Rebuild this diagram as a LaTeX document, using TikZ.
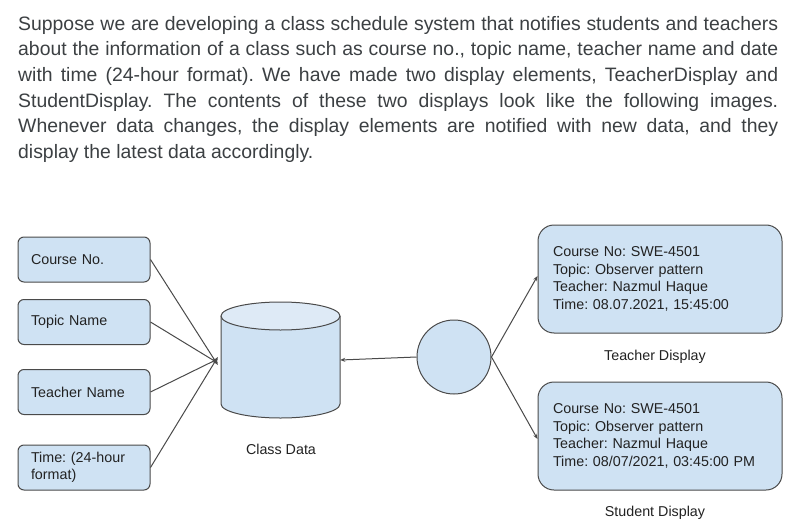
\documentclass[tikz,border=0pt]{standalone}
\usepackage{fontspec}
\setmainfont{Liberation Sans}
\usetikzlibrary{arrows.meta}
\frenchspacing
\definecolor{boxfill}{HTML}{CFE2F3}
\definecolor{topfill}{HTML}{DEEAF6}
\definecolor{edge}{HTML}{4A4A4A}
\definecolor{para}{HTML}{3C4043}
\definecolor{dtext}{HTML}{222222}
\tikzset{
  paraline/.style={anchor=base west, inner sep=0pt, text=para, font=\fontsize{19.4}{24}\selectfont},
  leftbox/.style={draw=edge, line width=1pt, fill=boxfill, rounded corners=6pt, minimum width=132pt, minimum height=45pt,
    text width=106pt, inner xsep=13pt, inner ysep=0pt, align=left, text=dtext, font=\fontsize{14.3}{17}\selectfont},
  dispbox/.style={draw=edge, line width=1pt, fill=boxfill, rounded corners=16pt, minimum width=244pt, minimum height=108pt,
    text width=214pt, inner xsep=15pt, inner ysep=0pt, align=left, text=dtext, font=\fontsize{14.3}{17.7}\selectfont},
  caption/.style={text=dtext, inner sep=0pt, font=\fontsize{14.3}{17}\selectfont},
  conn/.style={draw=edge, line width=1pt, -{Stealth[length=5pt,width=4pt]}},
}
\begin{document}
\begin{tikzpicture}[x=1pt,y=-1pt]
\useasboundingbox[fill=white] (0,0) rectangle (797,532);
% paragraph
\node[paraline] (p1) at (18,30.5) {\makebox[760pt][s]{Suppose we are developing a class schedule system that notifies students and teachers}};
\node[paraline] (p2) at (18,56) {\makebox[760pt][s]{about the information of a class such as course no., topic name, teacher name and date}};
\node[paraline] (p3) at (18,81.5) {\makebox[760pt][s]{with time (24-hour format). We have made two display elements, TeacherDisplay and}};
\node[paraline] (p4) at (18,107) {\makebox[760pt][s]{StudentDisplay. The contents of these two displays look like the following images.}};
\node[paraline] (p5) at (18,132.5) {\makebox[760pt][s]{Whenever data changes, the display elements are notified with new data, and they}};
\node[paraline] (p6) at (18,158) {display the latest data accordingly.};
% left boxes
\node[leftbox] (cn) at (84,259.5) {Course No.};
\node[leftbox] (tn) at (84,322) {Topic Name};
\node[leftbox] (tch) at (84,392) {Teacher Name};
\node[leftbox] (tm) at (84,467.5) {Time: (24-hour\\format)};
% cylinder
\fill[boxfill] (221,316) rectangle (340,404);
\fill[boxfill] (280.5,404) ellipse [x radius=59.5, y radius=14];
\draw[edge, line width=1pt] (221,316) -- (221,404) arc[start angle=180, end angle=0, x radius=59.5, y radius=14] -- (340,316);
\draw[edge, line width=1pt, fill=topfill] (280.5,316) ellipse [x radius=59.5, y radius=14];
\node[minimum width=119pt, minimum height=116pt, inner sep=0pt] (db) at (280.5,360) {};
\node[caption] (dbl) at (281,449) {Class Data};
% observer circle
\node[circle, draw=edge, line width=1pt, fill=boxfill, minimum size=74pt, inner sep=0pt] (obs) at (454,357) {};
% displays
\node[dispbox] (td) at (660,279) {Course No: SWE-4501\\Topic: Observer pattern\\Teacher: Nazmul Haque\\Time: 08.07.2021, 15:45:00};
\node[caption] (tdl) at (655,357) {Teacher Display};
\node[dispbox] (sd) at (660,436) {Course No: SWE-4501\\Topic: Observer pattern\\Teacher: Nazmul Haque\\Time: 08/07/2021, 03:45:00 PM};
\node[caption] (sdl) at (655,513) {Student Display};
% connectors
\draw[conn] (cn.east) -- ([shift={(-3pt,-5pt)}]db.west);
\draw[conn] (tn.east) -- ([shift={(-3pt,-3pt)}]db.west);
\draw[conn] (tch.east) -- ([shift={(-3pt,1pt)}]db.west);
\draw[conn] (tm.east) -- ([shift={(-3pt,3pt)}]db.west);
\draw[conn] (obs.west) -- (db.east);
\draw[conn] (obs.east) -- ([yshift=3pt]td.west);
\draw[conn] (obs.east) -- ([yshift=-3pt]sd.west);
\end{tikzpicture}
\end{document}
